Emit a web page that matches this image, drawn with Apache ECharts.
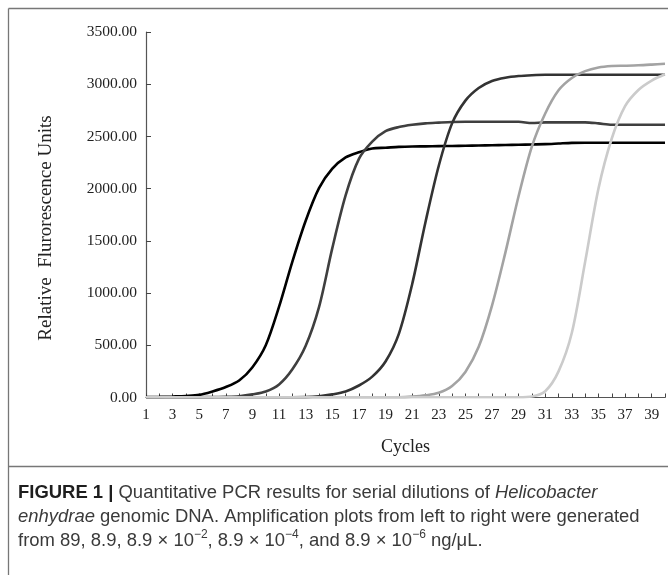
<!DOCTYPE html>
<html><head><meta charset="utf-8">
<script src="https://cdn.jsdelivr.net/npm/echarts@6/dist/echarts.min.js"></script>
<style>html,body{margin:0;padding:0;background:#fff}#c{width:668px;height:575px}</style>
</head><body><div id="c"></div>
<script>
// ---- data ----
const cycles = ['1','2','3','4','5','6','7','8','9','10','11','12','13','14','15','16','17','18','19','20',
  '21','22','23','24','25','26','27','28','29','30','31','32','33','34','35','36','37','38','39','40'];
const rfu89 = [4,6,10,15,25,58,100,162,290,500,870,1302,1693,2005,2191,2299,2349,2385,2392,2400,
  2404,2405,2407,2409,2411,2413,2415,2418,2420,2423,2426,2432,2438,2440,2440,2440,2440,2440,2440,2440];
const rfu8_9 = [3,3,3,3,3,4,6,12,30,58,125,270,495,865,1430,1935,2285,2450,2550,2590,
  2612,2625,2632,2638,2640,2640,2640,2640,2640,2628,2635,2635,2635,2635,2625,2612,2612,2612,2612,2612];
const rfuE2 = [3,3,3,3,3,3,3,3,3,3,3,3,4,12,30,58,115,200,345,610,
  1085,1679,2219,2625,2843,2964,3031,3062,3078,3086,3090,3090,3090,3090,3090,3090,3090,3090,3090,3090];
const rfuE4 = [3,3,3,3,3,3,3,3,3,3,3,3,3,3,3,3,3,3,3,3,
  8,20,45,110,245,485,880,1385,1930,2405,2720,2942,3060,3125,3160,3174,3177,3181,3188,3196];
const rfuE6 = [3,3,3,3,3,3,3,3,3,3,3,3,3,3,3,3,3,3,3,3,
  3,3,3,3,3,3,3,3,3,10,60,250,620,1300,2000,2480,2790,2945,3035,3095];
const seriesNames = ['89 ng/μL','8.9 ng/μL','8.9e-2 ng/μL','8.9e-4 ng/μL','8.9e-6 ng/μL'];
const seriesData = [rfu89, rfu8_9, rfuE2, rfuE4, rfuE6];
const seriesColors = ['#000000','#3f3f3f','#333333','#a3a3a3','#cbcbcb'];
const yMin = 0, yMax = 3500, yStep = 500;

// texts
const xTitle = 'Cycles';
const yTitle = 'Relative  Flurorescence Units';
const capLine1 = '{b|FIGURE 1 |} Quantitative PCR results for serial dilutions of {i|Helicobacter}';
const capLine2 = '{i|enhydrae} genomic DNA. Amplification plots from left to right were generated';
const capLine3 = 'from 89, 8.9, 8.9 × 10{s|−2}, 8.9 × 10{s|−4}, and 8.9 × 10{s|−6} ng/μL.';

const sans = "'Liberation Sans',Arial,sans-serif";
const serif = "'Liberation Serif','Times New Roman',serif";
// fit caption size so the second line spans the caption width
const cv = document.createElement('canvas').getContext('2d');
cv.font = "16px 'Liberation Sans'";
const w16 = cv.measureText('enhydrae genomic DNA. Amplification plots from left to right were generated').width;
const capSize = Math.min(19, Math.max(15, 16 * 622 / w16));
const sup = Math.round(capSize * 0.66);

function capStyle(text) {
  return {
    text, fontFamily: sans, fontSize: capSize, fill: '#3a3a3a', lineHeight: 24,
    rich: {
      b: {fontWeight: 'bold', fill: '#1e1e1e', fontFamily: sans, fontSize: capSize, lineHeight: 24},
      i: {fontStyle: 'italic', fontFamily: sans, fontSize: capSize, lineHeight: 24, fill: '#3a3a3a'},
      s: {fontFamily: sans, fontSize: sup, lineHeight: 13, verticalAlign: 'top', fill: '#3a3a3a'}
    }
  };
}

const chart = echarts.init(document.getElementById('c'), null, {renderer:'canvas'});
chart.setOption({
  animation:false,
  backgroundColor:'#fff',
  grid:{left:146,right:3,top:32,bottom:177.5,containLabel:false,outerBoundsMode:'none'},
  xAxis:{
    type:'category', data:cycles, boundaryGap:false,
    name:xTitle, nameLocation:'middle', nameGap:41,
    nameTextStyle:{fontFamily:serif,fontSize:18,color:'#222'},
    axisLine:{lineStyle:{color:'#555',width:1.2}},
    axisTick:{inside:true,length:4,interval:0,lineStyle:{color:'#444'}},
    axisLabel:{interval:1,margin:10,fontFamily:serif,fontSize:15,color:'#222'},
    splitLine:{show:false}
  },
  yAxis:{
    type:'value', min:yMin, max:yMax, interval:yStep,
    axisLine:{show:true,lineStyle:{color:'#555',width:1.2}},
    axisTick:{show:true,inside:true,length:5,lineStyle:{color:'#444'}},
    axisLabel:{margin:9,fontFamily:serif,fontSize:15.5,color:'#222',formatter:v=>v.toFixed(2)},
    splitLine:{show:false}
  },
  series: seriesData.map((d,i)=>({
    type:'line', name:seriesNames[i], data:d, showSymbol:false, smooth:0.3,
    lineStyle:{color:seriesColors[i],width:2.6}, itemStyle:{color:seriesColors[i]}, z:2+i
  })),
  graphic:[
    {type:'line',shape:{x1:8.5,y1:8.5,x2:668,y2:8.5},style:{stroke:'#777',lineWidth:1.3}},
    {type:'line',shape:{x1:8.5,y1:8.5,x2:8.5,y2:575},style:{stroke:'#777',lineWidth:1.3}},
    {type:'line',shape:{x1:8.5,y1:466.5,x2:668,y2:466.5},style:{stroke:'#777',lineWidth:1.3}},
    {type:'text',x:46,y:228,rotation:Math.PI/2,style:{text:yTitle,fontFamily:serif,fontSize:19,
      fill:'#222',align:'center',verticalAlign:'middle'}},
    {type:'text',left:18,top:481,style:capStyle(capLine1)},
    {type:'text',left:18,top:505,style:capStyle(capLine2)},
    {type:'text',left:18,top:529,style:capStyle(capLine3)}
  ]
});
</script></body></html>
